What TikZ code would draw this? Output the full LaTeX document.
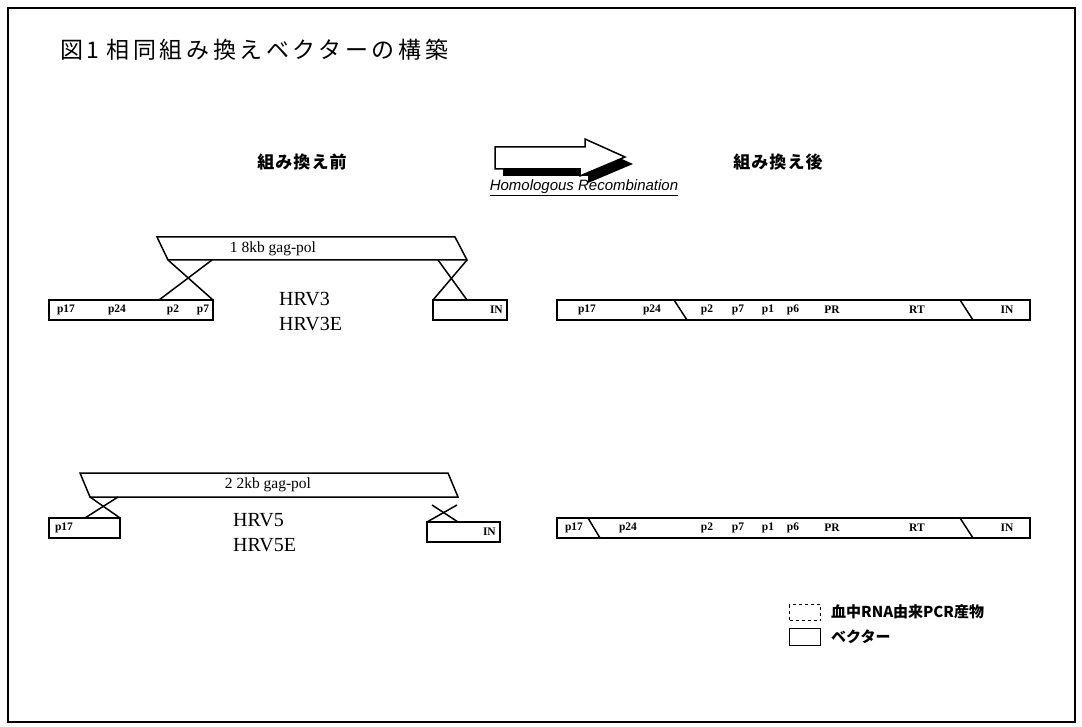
\documentclass[tikz,border=0pt]{standalone}
\usepackage{fontspec}
\setmainfont{Liberation Serif}
\newfontfamily\jpfont{Noto Sans CJK JP}
\newfontfamily\arialfont{Liberation Sans}
\tikzset{
  ln/.style={line width=1.5pt, line join=miter},
  gbox/.style={draw, line width=1.5pt, outer sep=0pt, inner sep=0pt, anchor=north west, minimum height=20pt},
  plab/.style={font=\fontsize{11.5}{12}\selectfont\bfseries, inner sep=0pt},
  hrv/.style={font=\fontsize{20}{21}\selectfont, anchor=west, inner sep=0pt},
  gag/.style={font=\fontsize{15.5}{16}\selectfont, inner sep=0pt},
  jphead/.style={font=\jpfont\bfseries\fontsize{17}{19}\selectfont\addfontfeatures{LetterSpace=6}, inner sep=0pt},
  legtext/.style={font=\jpfont\bfseries\fontsize{15}{17}\selectfont, anchor=west, inner sep=0pt},
}
\begin{document}
\begin{tikzpicture}[x=1pt,y=-1pt]
\useasboundingbox (0,0) rectangle (1082,727);
\draw[line width=1.8pt] (8,8) rectangle (1075,722);

% title
\node[anchor=west, inner sep=0pt, font=\jpfont\fontsize{23}{25}\selectfont\addfontfeatures{LetterSpace=16}] (title) at (60,50) {図1\hspace{0.3em}相同組み換えベクターの構築};

% headings
\node[jphead] (before) at (302,162) {組み換え前};
\node[jphead] (after) at (778,162) {組み換え後};

% block arrow with shadow
\fill[black, shift={(8,7)}] (495,147) -- (585,147) -- (585,139) -- (625,157) -- (580,176) -- (580,169) -- (495,169) -- cycle;
\draw[line width=1.5pt, fill=white, line join=miter] (495,147) -- (585,147) -- (585,139) -- (625,157) -- (580,176) -- (580,169) -- (495,169) -- cycle;
\node[inner sep=0pt, font=\arialfont\itshape\fontsize{15}{16}\selectfont] (hr) at (584,188) {\underline{Homologous Recombination}};

% ---- Row 1 : HRV3 ----
\coordinate (b1tl) at (157,237);
\coordinate (b1tr) at (455,237);
\coordinate (b1br) at (467,260);
\coordinate (b1bl) at (168,260);
\draw[ln] (b1tl) -- (b1tr) -- (b1br) -- (b1bl) -- cycle;
\node[gag] (g1) at (273,249) {1 8kb gag-pol};

\node[gbox, minimum width=164pt] (L1) at (49,300) {};
\node[plab] (l1a) at (66,310) {p17};
\node[plab] (l1b) at (117,310) {p24};
\node[plab] (l1c) at (173,310) {p2};
\node[plab] (l1d) at (203,310) {p7};

\node[gbox, minimum width=74pt] (I1) at (433,300) {};
\node[plab, anchor=east] (i1) at (503,310) {IN};

\coordinate (x1a) at (212,260);
\coordinate (x1b) at (159,300);
\draw[ln] (b1bl) -- (L1.north east);
\draw[ln] (x1a) -- (x1b);
\coordinate (x1c) at (438,260);
\coordinate (x1d) at (467,300);
\draw[ln] (b1br) -- (I1.north west);
\draw[ln] (x1c) -- (x1d);

\node[hrv] (hrv3) at (279,299) {HRV3};
\node[hrv] (hrv3e) at (279,324) {HRV3E};

% after, row 1
\node[gbox, minimum width=473pt] (R1) at (557,300) {};
\coordinate (s1a) at (674,300); \coordinate (s1b) at (687,320);
\coordinate (s1c) at (960,300); \coordinate (s1d) at (973,320);
\draw[ln] (s1a) -- (s1b);
\draw[ln] (s1c) -- (s1d);
\node[plab] (r1a) at (587,310) {p17};
\node[plab] (r1b) at (652,310) {p24};
\node[plab] (r1c) at (707,310) {p2};
\node[plab] (r1d) at (738,310) {p7};
\node[plab] (r1e) at (768,310) {p1};
\node[plab] (r1f) at (793,310) {p6};
\node[plab] (r1g) at (832,310) {PR};
\node[plab] (r1h) at (917,310) {RT};
\node[plab] (r1i) at (1007,310) {IN};

% ---- Row 2 : HRV5 ----
\coordinate (b2tl) at (80,473);
\coordinate (b2tr) at (448,473);
\coordinate (b2br) at (458,497);
\coordinate (b2bl) at (90,497);
\draw[ln] (b2tl) -- (b2tr) -- (b2br) -- (b2bl) -- cycle;
\node[gag] (g2) at (268,485) {2 2kb gag-pol};

\node[gbox, minimum width=71pt] (L2) at (49,518) {};
\node[plab] (l2a) at (64,528) {p17};
\node[gbox, minimum width=73pt] (I2) at (427,522) {};
\node[plab, anchor=east] (i2) at (496,532) {IN};

\coordinate (x2a) at (118,497);
\coordinate (x2b) at (85,518);
\draw[ln] (b2bl) -- (L2.north east);
\draw[ln] (x2a) -- (x2b);
\coordinate (x2c) at (432,505);
\coordinate (x2d) at (458,522);
\coordinate (x2e) at (457,505);
\draw[ln] (x2c) -- (x2d);
\draw[ln] (x2e) -- (I2.north west);

\node[hrv] (hrv5) at (233,520) {HRV5};
\node[hrv] (hrv5e) at (233,545) {HRV5E};

% after, row 2
\node[gbox, minimum width=473pt] (R2) at (557,518) {};
\coordinate (s2a) at (588,518); \coordinate (s2b) at (600,538);
\coordinate (s2c) at (960,518); \coordinate (s2d) at (973,538);
\draw[ln] (s2a) -- (s2b);
\draw[ln] (s2c) -- (s2d);
\node[plab] (r2a) at (574,528) {p17};
\node[plab] (r2b) at (628,528) {p24};
\node[plab] (r2c) at (707,528) {p2};
\node[plab] (r2d) at (738,528) {p7};
\node[plab] (r2e) at (768,528) {p1};
\node[plab] (r2f) at (793,528) {p6};
\node[plab] (r2g) at (832,528) {PR};
\node[plab] (r2h) at (917,528) {RT};
\node[plab] (r2i) at (1007,528) {IN};

% legend
\node[draw, dashed, line width=1.2pt, anchor=north west, minimum width=31pt, minimum height=16pt, inner sep=0pt] (k1) at (789,604) {};
\node[legtext] (k1t) at (831,612) {血中RNA由来PCR産物};
\node[draw, line width=1.2pt, anchor=north west, minimum width=31pt, minimum height=17pt, inner sep=0pt] (k2) at (789,628) {};
\node[legtext] (k2t) at (831,637) {ベクター};
\end{tikzpicture}
\end{document}
